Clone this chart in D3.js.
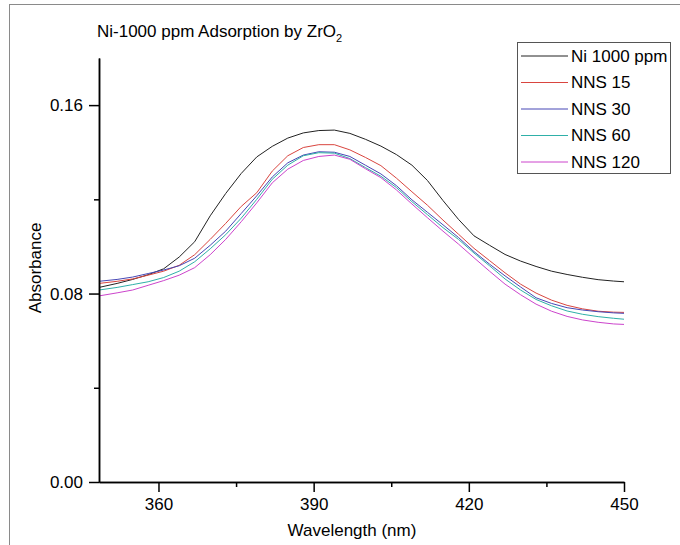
<!DOCTYPE html>
<html>
<head>
<meta charset="utf-8">
<style>
  body { margin: 0; background: #fff; }
  svg { display: block; font-family: 'Liberation Sans', Arial, sans-serif; }
</style>
</head>
<body>
<svg id="chart" width="680" height="545"></svg>
<script src="https://cdn.jsdelivr.net/npm/d3@7"></script>
<script>
/* globals d3 */
// Wavelength (nm) shared by every spectrum
const wavelengths = [348.5, 352, 355, 358, 361, 364, 367, 370, 373, 376, 379, 382, 385, 388, 391, 394, 397, 400,
  403, 406, 409, 412, 415, 418, 421, 424, 427, 430, 433, 436, 439, 442, 445, 448, 450]
// Absorbance
const ni1000 = [0.0826, 0.0843, 0.0860, 0.0880, 0.0905, 0.0955, 0.1020, 0.1130, 0.1225, 0.1310, 0.1380, 0.1425,
  0.1460, 0.1482, 0.1492, 0.1494, 0.1480, 0.1455, 0.1426, 0.1390, 0.1345, 0.1280, 0.1195, 0.1115, 0.1045, 0.1005,
  0.0966, 0.0938, 0.0915, 0.0895, 0.0881, 0.0869, 0.0859, 0.0853, 0.0850]
const nns15 = [0.0843, 0.0852, 0.0862, 0.0878, 0.0895, 0.0920, 0.0965, 0.1030, 0.1098, 0.1170, 0.1228, 0.1320,
  0.1385, 0.1420, 0.1432, 0.1432, 0.1410, 0.1378, 0.1343, 0.1290, 0.1232, 0.1175, 0.1112, 0.1052, 0.0992, 0.0940,
  0.0888, 0.0840, 0.0802, 0.0772, 0.0750, 0.0735, 0.0725, 0.0721, 0.0720]
const nns30 = [0.0852, 0.0860, 0.0870, 0.0885, 0.0900, 0.0918, 0.0950, 0.1005, 0.1065, 0.1140, 0.1215, 0.1295,
  0.1355, 0.1388, 0.1402, 0.1400, 0.1382, 0.1345, 0.1308, 0.1258, 0.1198, 0.1145, 0.1092, 0.1038, 0.0978, 0.0925,
  0.0875, 0.0828, 0.0782, 0.0758, 0.0740, 0.0730, 0.0723, 0.0718, 0.0716]
const nns60 = [0.0815, 0.0826, 0.0838, 0.0850, 0.0868, 0.0895, 0.0935, 0.0990, 0.1050, 0.1120, 0.1200, 0.1285,
  0.1345, 0.1385, 0.1398, 0.1396, 0.1373, 0.1335, 0.1298, 0.1250, 0.1190, 0.1135, 0.1080, 0.1030, 0.0972, 0.0918,
  0.0862, 0.0815, 0.0775, 0.0748, 0.0726, 0.0712, 0.0702, 0.0695, 0.0691]
const nns120 = [0.0790, 0.0803, 0.0815, 0.0835, 0.0855, 0.0878, 0.0910, 0.0965, 0.1030, 0.1105, 0.1185, 0.1270,
  0.1328, 0.1365, 0.1382, 0.1388, 0.1370, 0.1330, 0.1292, 0.1240, 0.1180, 0.1122, 0.1065, 0.1010, 0.0952, 0.0895,
  0.0840, 0.0795, 0.0755, 0.0725, 0.0703, 0.0688, 0.0678, 0.0671, 0.0669]

const seriesNames = ['Ni 1000 ppm', 'NNS 15', 'NNS 30', 'NNS 60', 'NNS 120']
const seriesValues = [ni1000, nns15, nns30, nns60, nns120]
const seriesColors = ['#222', '#d9453f', '#4747b5', '#2fb0a8', '#cc44cc']

const xTicks = [360, 390, 420, 450]
const xMinorTicks = [375, 405, 435]
const yTicks = [0, 0.08, 0.16]
const yMinorTicks = [0.04, 0.12]

const svg = d3.select('#chart')
const x = d3.scaleLinear([348.5, 450], [99, 624])
const y = d3.scaleLinear([0, 0.18], [482, 58])

// Outer frame (cut off at right and bottom)
svg.append('rect')
  .attr('x', 9.5).attr('y', 4.5)
  .attr('width', 700).attr('height', 600)
  .attr('fill', 'none').attr('stroke', '#8a8a8a')

// Title with subscript
const title = svg.append('text')
  .attr('x', 97).attr('y', 37)
  .attr('font-size', 17)
  .text('Ni-1000 ppm Adsorption by ZrO')
title.append('tspan').attr('font-size', 11).attr('dy', 5).text('2')

// Spectra
const line = d3.line()
  .x((d, i) => x(wavelengths[i]))
  .y(d => y(d))
svg.append('g')
  .selectAll('path')
  .data(seriesValues)
  .join('path')
  .attr('d', line)
  .attr('fill', 'none')
  .attr('stroke', (d, i) => seriesColors[i])
  .attr('stroke-width', 1)

// Axes
const styleAxis = g => {
  g.selectAll('path, line').attr('stroke', '#000').attr('stroke-width', 1.5)
  g.selectAll('text').attr('font-size', 17).attr('fill', '#000').attr('font-family', null)
}
svg.append('g')
  .attr('transform', 'translate(0,482)')
  .call(d3.axisBottom(x).tickValues(xTicks).tickSize(10).tickSizeOuter(0).tickPadding(6))
  .call(styleAxis)
svg.append('g')
  .attr('transform', 'translate(0,482)')
  .call(d3.axisBottom(x).tickValues(xMinorTicks).tickSize(5).tickSizeOuter(0).tickFormat(''))
  .call(styleAxis)
svg.append('g')
  .attr('transform', 'translate(99,0)')
  .call(d3.axisLeft(y).tickValues(yTicks).tickFormat(d3.format('.2f')).tickSize(10).tickSizeOuter(0).tickPadding(6))
  .call(styleAxis)
svg.append('g')
  .attr('transform', 'translate(99,0)')
  .call(d3.axisLeft(y).tickValues(yMinorTicks).tickSize(5).tickSizeOuter(0).tickFormat(''))
  .call(styleAxis)

// Axis titles
svg.append('text')
  .attr('x', 352).attr('y', 536)
  .attr('text-anchor', 'middle')
  .attr('font-size', 17)
  .text('Wavelength (nm)')
svg.append('text')
  .attr('transform', 'translate(41,268) rotate(-90)')
  .attr('text-anchor', 'middle')
  .attr('font-size', 17)
  .text('Absorbance')

// Legend
const legend = svg.append('g')
legend.append('rect')
  .attr('x', 517.5).attr('y', 42.5)
  .attr('width', 153).attr('height', 131)
  .attr('fill', '#fff').attr('stroke', '#555')
const row = legend.selectAll('g.row')
  .data(seriesNames)
  .join('g')
  .attr('class', 'row')
  .attr('transform', (d, i) => `translate(0,${56 + i * 26.5})`)
row.append('line')
  .attr('x1', 521).attr('x2', 568)
  .attr('stroke', (d, i) => seriesColors[i])
  .attr('stroke-width', 1)
row.append('text')
  .attr('x', 571).attr('dy', '0.35em')
  .attr('font-size', 17)
  .text(d => d)
</script>
</body>
</html>
